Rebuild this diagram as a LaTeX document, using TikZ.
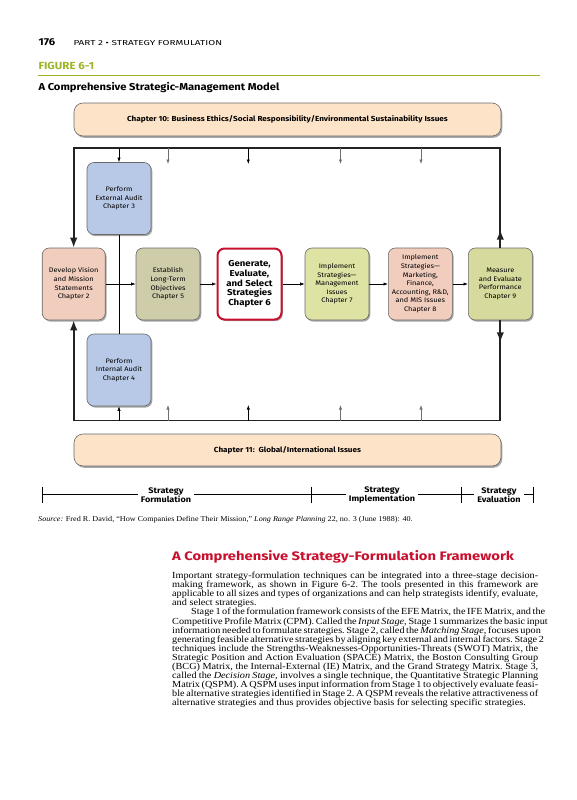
\documentclass[tikz,border=0pt]{standalone}
\usepackage{fontspec}
\setmainfont{Liberation Serif}
\setsansfont{Fira Sans}
\newfontfamily\wsans[FakeStretch=1.12,Ligatures=TeX]{Fira Sans}
\newfontfamily\hsans[FakeStretch=1.2,Ligatures=TeX]{Fira Sans}
\newfontfamily\bodyfont[FakeStretch=1.10,Ligatures=TeX]{Liberation Serif}
\newfontfamily\srcfont[FakeStretch=1.1,Ligatures=TeX]{Liberation Serif}
\usetikzlibrary{arrows.meta,shadows}
\definecolor{figgreen}{RGB}{155,181,40}
\definecolor{headred}{RGB}{200,16,46}
\definecolor{peach}{RGB}{253,227,200}
\definecolor{salmon}{RGB}{241,205,190}
\definecolor{lblue}{RGB}{184,201,232}
\definecolor{khaki}{RGB}{207,204,170}
\definecolor{ygreen}{RGB}{222,226,162}
\definecolor{mgreen}{RGB}{214,218,156}
\definecolor{boxline}{RGB}{105,105,105}
\definecolor{frameline}{RGB}{35,35,35}
\definecolor{arrgray}{RGB}{110,110,110}
\newcommand{\fullline}[1]{\hbox to 366pt{\spaceskip=2.6pt plus 4pt minus 1pt\xspaceskip=\spaceskip #1}}
\begin{document}
\begin{tikzpicture}[x=1pt,y=-1pt,
  stepbox/.style={draw=boxline, line width=0.6pt, rounded corners=7pt,
    minimum width=64pt, minimum height=72pt, inner sep=0pt, align=center,
    font=\wsans\fontsize{6.6}{8.6}\selectfont,
    drop shadow={shadow xshift=1.3pt, shadow yshift=-1.6pt, opacity=0.35, fill=black}},
  band/.style={draw=boxline, line width=0.6pt, fill=peach, rounded corners=9pt,
    minimum width=427pt, inner sep=0pt, align=center,
    font=\wsans\bfseries\fontsize{7.3}{9}\selectfont,
    drop shadow={shadow xshift=1.3pt, shadow yshift=-1.8pt, opacity=0.35, fill=black}},
  bigtip/.style={line width=1.7pt, draw=frameline, -{Latex[length=10pt,width=7.5pt]}},
  thinarrow/.style={line width=0.6pt, -{Latex[length=4.5pt,width=3.2pt]}},
  stage/.style={fill=white, inner xsep=3pt, inner ysep=0pt, align=center,
    font=\wsans\bfseries\fontsize{8.1}{9.4}\selectfont},
  tick/.style={line width=0.7pt},
  txt/.style={anchor=base west, inner sep=0pt},
  bodyline/.style={anchor=base west, inner sep=0pt, font=\bodyfont\fontsize{9.3}{9.06}\selectfont}
]
\useasboundingbox (0,0) rectangle (576,800);
\fill[white] (0,0) rectangle (576,800);

% page header
\node[txt, font=\wsans\bfseries\fontsize{10}{12}\selectfont] (pg) at (38.5,45.8) {176};
\node[txt, font=\wsans\fontsize{7.2}{9}\selectfont] (part) at (73.3,45.8) {\scalebox{1.24}[1]{PART 2 \textbullet{} STRATEGY FORMULATION}};
\node[txt, font=\wsans\bfseries\fontsize{10.3}{12}\selectfont, text=figgreen] (fig) at (38.3,70) {FIGURE 6-1};
\coordinate (r0) at (38,75.5);
\coordinate (r1) at (540,75.5);
\draw[figgreen, line width=1.5pt] (r0) -- (r1);
\node[txt, font=\wsans\bfseries\fontsize{10}{12}\selectfont] (title) at (38.3,90.7) {A Comprehensive Strategic-Management Model};

% bands
\node[band, minimum height=33pt] (ch10) at (287.5,119.5) {Chapter 10: Business Ethics/Social Responsibility/Environmental Sustainability Issues};
\node[band, minimum height=32pt] (ch11) at (287.5,450) {Chapter 11:\ \ Global/International Issues};

% boxes
\node[stepbox, fill=lblue] (ext) at (119,198.5) {Perform\\External Audit\\Chapter 3};
\node[stepbox, fill=lblue] (int) at (119,370) {Perform\\Internal Audit\\Chapter 4};
\node[stepbox, fill=salmon, minimum width=63pt] (dev) at (73.7,284) {Develop Vision\\and Mission\\Statements\\Chapter 2};
\node[stepbox, fill=khaki] (est) at (168,284) {Establish\\Long-Term\\Objectives\\Chapter 5};
\node[stepbox, fill=white, draw=headred, line width=2pt, minimum width=64pt, minimum height=71pt,
  font=\wsans\bfseries\fontsize{8.6}{9.7}\selectfont] (gen) at (249.5,284) {Generate,\\Evaluate,\\and Select\\Strategies\\Chapter 6};
\node[stepbox, fill=ygreen] (imp7) at (337,284) {Implement\\Strategies—\\Management\\Issues\\Chapter 7};
\node[stepbox, fill=salmon] (imp8) at (420.3,284) {Implement\\Strategies—\\Marketing,\\Finance,\\Accounting, R\&D,\\and MIS Issues\\Chapter 8};
\node[stepbox, fill=mgreen] (meas) at (500.3,284) {Measure\\and Evaluate\\Performance\\Chapter 9};

% frame corners
\coordinate (tl) at (73.7,148);
\coordinate (tr) at (500.3,148);
\coordinate (bl) at (73.7,420.5);
\coordinate (br) at (500.3,420.5);

% feedback loop
\draw[bigtip] (meas.north) -- (tr) -- (tl) -- (dev.north);
\draw[bigtip] (meas.south) -- (br) -- (bl) -- (dev.south);
\draw[bigtip] (meas.north) -- ++(0,-18);
\draw[bigtip] (meas.south) -- ++(0,22);

% small arrows from top
\coordinate (ta1) at (168,148);   \coordinate (te1) at (168,164);
\coordinate (ta2) at (248.3,148); \coordinate (te2) at (248.3,164);
\coordinate (ta3) at (340.5,148); \coordinate (te3) at (340.5,164);
\coordinate (ta4) at (421,148);   \coordinate (te4) at (421,164);
\draw[thinarrow] (ext.north |- tl) -- (ext.north);
\draw[thinarrow, draw=arrgray] (ta1) -- (te1);
\draw[thinarrow] (ta2) -- (te2);
\draw[thinarrow, draw=arrgray] (ta3) -- (te3);
\draw[thinarrow, draw=arrgray] (ta4) -- (te4);

% small arrows from bottom
\coordinate (ba1) at (168,420.5);   \coordinate (be1) at (168,405);
\coordinate (ba2) at (248.3,420.5); \coordinate (be2) at (248.3,405);
\coordinate (ba3) at (340.5,420.5); \coordinate (be3) at (340.5,405);
\coordinate (ba4) at (421,420.5);   \coordinate (be4) at (421,405);
\draw[thinarrow] (int.south |- bl) -- (int.south);
\draw[thinarrow, draw=arrgray] (ba1) -- (be1);
\draw[thinarrow] (ba2) -- (be2);
\draw[thinarrow, draw=arrgray] (ba3) -- (be3);
\draw[thinarrow, draw=arrgray] (ba4) -- (be4);

% audit link
\draw[line width=0.7pt] (ext.south) -- (int.north);

% main row arrows
\draw[thinarrow] (dev.east) -- (est.west);
\draw[thinarrow] (est.east) -- (gen.west);
\draw[thinarrow] (gen.east) -- (imp7.west);
\draw[thinarrow] (imp7.east) -- (imp8.west);
\draw[thinarrow] (imp8.east) -- (meas.west);

% stage bar
\coordinate (s0) at (42,494.5);
\coordinate (s1) at (311,494.5);
\coordinate (s2) at (461,494.5);
\coordinate (s3) at (533.5,494.5);
\draw[tick] (s0) -- (s3);
\draw[tick] ([yshift=8pt]s0) -- ([yshift=-8pt]s0);
\draw[tick] ([yshift=8pt]s1) -- ([yshift=-8pt]s1);
\draw[tick] ([yshift=8pt]s2) -- ([yshift=-8pt]s2);
\draw[tick] ([yshift=8pt]s3) -- ([yshift=-8pt]s3);
\node[stage] (sf) at (166,495) {Strategy\\Formulation};
\node[stage] (si) at (382,495) {Strategy\\Implementation};
\node[stage] (se) at (499,495) {Strategy\\Evaluation};

% source
\node[txt, font=\srcfont\fontsize{7.4}{9}\selectfont] (src) at (38,521.5) {\textit{Source:} Fred R. David, “How Companies Define Their Mission,” \textit{Long Range Planning} 22, no. 3 (June 1988): 40.};

% section heading
\node[txt, font=\hsans\bfseries\fontsize{12.3}{15}\selectfont, text=headred] (head) at (172,560.7) {A Comprehensive Strategy-Formulation Framework};

% body text
\node[bodyline] (l1) at (172,578.7) {\fullline{Important strategy-formulation techniques can be integrated into a three-stage decision-}};
\node[bodyline] (l2) at (172,587.76) {\fullline{making framework, as shown in Figure 6-2. The tools presented in this framework are}};
\node[bodyline] (l3) at (172,596.82) {\fullline{applicable to all sizes and types of organizations and can help strategists identify, evaluate,}};
\node[bodyline] (l4) at (172,605.88) {and select strategies.};
\node[bodyline] (l5) at (172,614.94) {\fullline{\hspace*{19pt}Stage 1 of the formulation framework consists of the EFE Matrix, the IFE Matrix, and the}};
\node[bodyline] (l6) at (172,624.0) {\fullline{Competitive Profile Matrix (CPM). Called the \textit{Input Stage,} Stage 1 summarizes the basic input}};
\node[bodyline] (l7) at (172,633.06) {\fullline{information needed to formulate strategies. Stage 2, called the \textit{Matching Stage,} focuses upon}};
\node[bodyline] (l8) at (172,642.12) {\fullline{generating feasible alternative strategies by aligning key external and internal factors. Stage 2}};
\node[bodyline] (l9) at (172,651.18) {\fullline{techniques include the Strengths-Weaknesses-Opportunities-Threats (SWOT) Matrix, the}};
\node[bodyline] (l10) at (172,660.24) {\fullline{Strategic Position and Action Evaluation (SPACE) Matrix, the Boston Consulting Group}};
\node[bodyline] (l11) at (172,669.3) {\fullline{(BCG) Matrix, the Internal-External (IE) Matrix, and the Grand Strategy Matrix. Stage 3,}};
\node[bodyline] (l12) at (172,678.36) {\fullline{called the \textit{Decision Stage,} involves a single technique, the Quantitative Strategic Planning}};
\node[bodyline] (l13) at (172,687.42) {\fullline{Matrix (QSPM). A QSPM uses input information from Stage 1 to objectively evaluate feasi-}};
\node[bodyline] (l14) at (172,696.48) {\fullline{ble alternative strategies identified in Stage 2. A QSPM reveals the relative attractiveness of}};
\node[bodyline] (l15) at (172,705.54) {alternative strategies and thus provides objective basis for selecting specific strategies.};
\end{tikzpicture}
\end{document}
